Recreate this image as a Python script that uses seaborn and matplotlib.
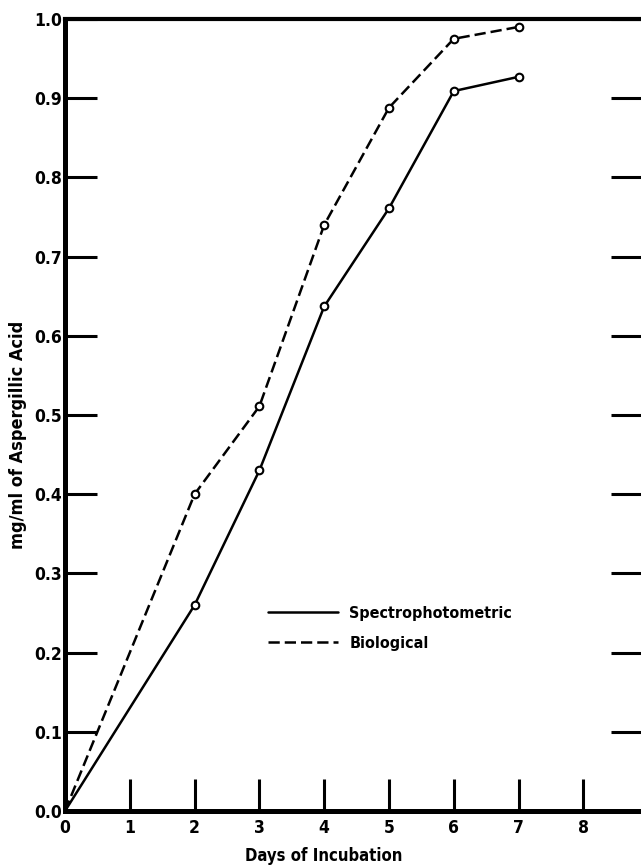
import pandas as pd
import matplotlib
matplotlib.use("Agg")
import matplotlib.pyplot as plt
import seaborn as sns

# data
days = [0, 2, 3, 4, 5, 6, 7]
spectro = [0.0, 0.26, 0.43, 0.637, 0.761, 0.909, 0.927]
biological = [0.0, 0.40, 0.511, 0.740, 0.888, 0.975, 0.990]
x_ticks = [0, 1, 2, 3, 4, 5, 6, 7, 8]
y_ticks = [0.0, 0.1, 0.2, 0.3, 0.4, 0.5, 0.6, 0.7, 0.8, 0.9, 1.0]

df_sp = pd.DataFrame({"day": days, "conc": spectro})
df_bio = pd.DataFrame({"day": days, "conc": biological})

sns.set_style("white")
plt.rcParams["font.family"] = ["Liberation Sans Narrow", "DejaVu Sans"]
plt.rcParams["font.weight"] = "bold"
plt.rcParams["font.stretch"] = "condensed"
plt.rcParams["text.color"] = "black"
plt.rcParams["axes.labelcolor"] = "black"

fig = plt.figure(figsize=(6.41, 8.68), dpi=100)
ax = fig.add_axes([65 / 641, 57 / 868, 578 / 641, 792 / 868])

# lines
sns.lineplot(x="day", y="conc", data=df_sp, ax=ax, color="black",
             linewidth=1.8, label="Spectrophotometric")
sns.lineplot(x="day", y="conc", data=df_bio, ax=ax, color="black",
             linewidth=1.8, linestyle=(0, (4.5, 2)), label="Biological")

# open circle markers (not at origin)
sns.scatterplot(x="day", y="conc", data=df_sp[df_sp.day > 0], ax=ax,
                marker="o", s=30, facecolor="white", edgecolor="black",
                linewidth=1.5, legend=False, zorder=3)
sns.scatterplot(x="day", y="conc", data=df_bio[df_bio.day > 0], ax=ax,
                marker="o", s=30, facecolor="white", edgecolor="black",
                linewidth=1.5, legend=False, zorder=3)

ax.set_xlim(0, 8.92)
ax.set_ylim(0, 1.0)
ax.set_xticks(x_ticks)
ax.set_xticklabels([str(t) for t in x_ticks])
ax.set_yticks(y_ticks)
ax.set_yticklabels([f"{t:.1f}" for t in y_ticks])

ax.tick_params(axis="y", direction="in", length=23, width=2.2, left=True,
               right=True, labelsize=12.5, pad=2, colors="black")
ax.tick_params(axis="x", direction="in", length=23, width=2.2, bottom=True,
               top=False, labelsize=12.5, pad=6, colors="black")

for side, lw in [("left", 3.6), ("bottom", 3.6), ("top", 3.0), ("right", 3.0)]:
    ax.spines[side].set_linewidth(lw)
    ax.spines[side].set_color("black")

ax.set_xlabel("Days of Incubation", fontsize=12, fontweight="bold")
ax.set_ylabel("mg/ml of Aspergillic Acid", fontsize=13, fontweight="bold")
ax.yaxis.set_label_coords(-0.066, 0.475)
ax.xaxis.set_label_coords(0.448, -0.046)

ax.legend(loc="upper left", bbox_to_anchor=(0.351, 0.259), frameon=False,
          handlelength=4.4, handletextpad=0.7, labelspacing=0.95,
          borderpad=0, borderaxespad=0, prop={"weight": "bold", "size": 11.5})

fig.savefig("out.png", dpi=100)
